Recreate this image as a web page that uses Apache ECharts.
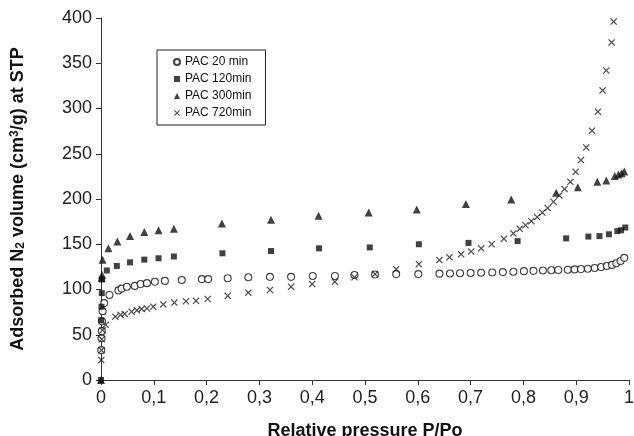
<!DOCTYPE html>
<html>
<head>
<meta charset="utf-8">
<script src="https://cdn.jsdelivr.net/npm/echarts@6/dist/echarts.min.js"></script>
<style>html,body{margin:0;padding:0;background:#fff}#c{width:634px;height:436px}</style>
</head>
<body>
<div id="c"></div>
<script>
// Data: [relative pressure P/Po, adsorbed volume]
var pac20 = [[0.0005,33],[0.001,46],[0.0015,54],[0.002,65],[0.003,76],[0.006,85],[0.016,94],[0.033,99],[0.039,101],[0.049,103],[0.064,104],[0.075,106],[0.087,107],[0.102,108.5],[0.121,109.5],[0.153,110.5],[0.191,111.5],[0.203,111.5],[0.24,112.5],[0.279,113.5],[0.32,114],[0.36,114],[0.401,115],[0.443,115],[0.48,116],[0.519,116.5],[0.559,117],[0.601,117],[0.641,117.5],[0.661,117.7],[0.68,118],[0.70,118.2],[0.72,118.5],[0.741,118.8],[0.761,119.2],[0.781,119.6],[0.801,120.3],[0.819,120.6],[0.837,121],[0.853,121.3],[0.866,121.6],[0.884,121.9],[0.897,122.2],[0.909,122.6],[0.922,123],[0.935,123.8],[0.947,124.8],[0.958,126],[0.968,127.2],[0.976,129],[0.984,131.5],[0.991,135]];
var pac120 = [[0,0],[0.0005,66],[0.001,81],[0.0015,96],[0.002,111],[0.011,121],[0.03,126],[0.055,130],[0.082,133],[0.109,134.5],[0.138,136.5],[0.23,140],[0.322,142.5],[0.413,145.5],[0.509,146.5],[0.602,150],[0.696,151.5],[0.789,153.5],[0.881,156.5],[0.923,158.5],[0.944,159],[0.962,161],[0.978,164.5],[0.985,165.5],[0.993,168.5]];
var pac300 = [[0,0],[0.001,113],[0.002,116],[0.003,133],[0.014,145.5],[0.031,153],[0.055,159],[0.082,163.5],[0.109,165.5],[0.138,167],[0.229,173],[0.322,177],[0.412,181.5],[0.507,185],[0.598,188.5],[0.691,194.5],[0.777,199.5],[0.862,207],[0.903,213],[0.94,219],[0.957,220.5],[0.973,225.5],[0.98,227],[0.986,228.5],[0.991,230.5]];
var pac720 = [[0.0005,22],[0.001,33],[0.0015,45],[0.003,55],[0.009,61],[0.027,70],[0.037,72],[0.045,73],[0.058,75.5],[0.068,77],[0.077,78.5],[0.087,79],[0.099,81],[0.118,83.5],[0.139,85.5],[0.161,87],[0.18,87.5],[0.202,89.5],[0.24,93],[0.279,96.5],[0.32,99.5],[0.36,103],[0.4,106],[0.443,108.5],[0.48,113.5],[0.519,117],[0.559,122.5],[0.602,128],[0.641,132.5],[0.66,135.5],[0.682,139],[0.701,142],[0.72,145.5],[0.74,150],[0.763,156],[0.781,162],[0.793,167],[0.804,171],[0.815,175.5],[0.826,180],[0.836,185],[0.846,190],[0.857,197],[0.868,204],[0.878,211],[0.889,219],[0.899,230],[0.909,243],[0.919,257],[0.93,275.5],[0.941,296.5],[0.95,320],[0.957,342],[0.967,373],[0.971,396]];
var seriesNames = ['PAC 20 min','PAC 120min','PAC 300min','PAC 720min'];
var xTicks = {min:0, max:1, interval:0.1};
var yTicks = {min:0, max:400, interval:50};

var crossPath = 'path://M0,1.2L1.2,0L5,3.8L8.8,0L10,1.2L6.2,5L10,8.8L8.8,10L5,6.2L1.2,10L0,8.8L3.8,5Z';
var FONT = '"Liberation Sans", Arial, sans-serif';

var chart = echarts.init(document.getElementById('c'), null, {renderer:'canvas'});
chart.setOption({
  animation:false,
  backgroundColor:'#fff',
  grid:{left:101, right:5, top:18, bottom:56, containLabel:false, outerBoundsMode:'none'},
  legend:{
    orient:'vertical', left:157, top:50,
    width: 90,
    padding:[6, 14, 6, 16],
    borderColor:'#222', borderWidth:1, backgroundColor:'#fff',
    itemWidth:6, itemHeight:6, itemGap:5,
    textStyle:{fontFamily:FONT, fontSize:12, color:'#111'},
    data: seriesNames
  },
  xAxis:{
    type:'value', min:xTicks.min, max:xTicks.max, interval:xTicks.interval,
    name:'Relative pressure P/Po', nameLocation:'middle', nameGap:42,
    nameTextStyle:{fontFamily:FONT, fontSize:18, fontWeight:'bold', color:'#111'},
    axisLine:{show:true, lineStyle:{color:'#333', width:1}},
    axisTick:{show:true, length:5, lineStyle:{color:'#333'}},
    splitLine:{show:false},
    axisLabel:{fontFamily:FONT, fontSize:18, color:'#222', margin:9,
      formatter:function(v){ return (Math.round(v*10)/10).toString().replace('.', ','); }}
  },
  yAxis:{
    type:'value', min:yTicks.min, max:yTicks.max, interval:yTicks.interval,
    name:'Adsorbed {b|N}{sub|2} volume (cm{sup|3}/g) at STP', nameLocation:'middle', nameGap:74,
    nameTextStyle:{fontFamily:FONT, fontSize:18, fontWeight:'bold', color:'#111',
      rich:{
        b:{fontFamily:FONT, fontSize:18, fontWeight:'bold', color:'#111'},
        sub:{fontFamily:FONT, fontSize:12, fontWeight:'bold', color:'#111', verticalAlign:'bottom', lineHeight:18, padding:[4,0,0,0]},
        sup:{fontFamily:FONT, fontSize:12, fontWeight:'bold', color:'#111', verticalAlign:'top', lineHeight:18, padding:[0,0,6,0]}
      }},
    axisLine:{show:true, lineStyle:{color:'#333', width:1}},
    axisTick:{show:true, length:5, lineStyle:{color:'#333'}},
    splitLine:{show:false},
    axisLabel:{fontFamily:FONT, fontSize:18, color:'#222', margin:9}
  },
  series:[
    {name:seriesNames[0], type:'scatter', data:pac20, symbol:'circle', symbolSize:7,
     itemStyle:{color:'#fff', borderColor:'#111', borderWidth:1.1}},
    {name:seriesNames[1], type:'scatter', data:pac120, symbol:'rect', symbolSize:6,
     itemStyle:{color:'#111'}},
    {name:seriesNames[2], type:'scatter', data:pac300, symbol:'triangle', symbolSize:8,
     itemStyle:{color:'#111'}},
    {name:seriesNames[3], type:'scatter', data:pac720, symbol:crossPath, symbolSize:7,
     itemStyle:{color:'#222'}}
  ]
});
</script>
</body>
</html>
